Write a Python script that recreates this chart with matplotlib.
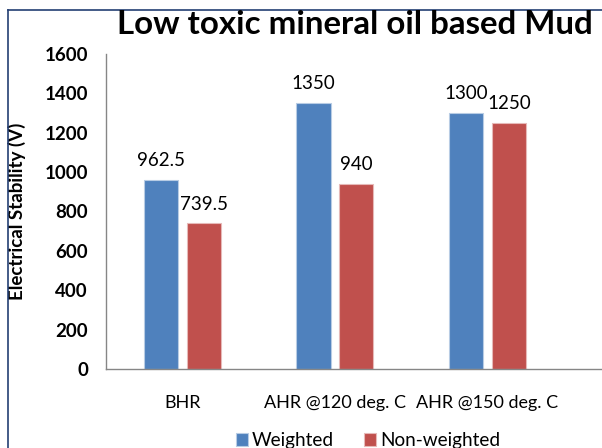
import matplotlib
matplotlib.use("Agg")
import matplotlib.pyplot as plt
from matplotlib.lines import Line2D
import numpy as np

categories = ["BHR", "AHR @120 deg. C", "AHR @150 deg. C"]
weighted = [962.5, 1350, 1300]
non_weighted = [739.5, 940, 1250]
series_names = ["Weighted", "Non-weighted"]
yticks = [0, 200, 400, 600, 800, 1000, 1200, 1400, 1600]

plt.rcParams['font.family'] = ['Lato', 'DejaVu Sans']

W, H = 602, 448
fig = plt.figure(figsize=(W / 100, H / 100), dpi=100)

# axes position in pixels
ax_left, ax_right, ax_bottom, ax_top = 106, 602, 369, 54
ax = fig.add_axes([ax_left / W, (H - ax_bottom) / H,
                   (ax_right - ax_left) / W, (ax_bottom - ax_top) / H])

x = np.arange(len(categories))
bw = 0.225
off = 0.14
blue = "#4F81BD"
red = "#C0504D"
b1 = ax.bar(x - off, weighted, bw, color=blue, edgecolor="#B8CCE4", linewidth=0.8, label=series_names[0])
b2 = ax.bar(x + off, non_weighted, bw, color=red, edgecolor="#E6B9B8", linewidth=0.8, label=series_names[1])

for bars, vals in ((b1, weighted), (b2, non_weighted)):
    for rect, v in zip(bars, vals):
        lab = f"{v:g}"
        ax.annotate(lab, (rect.get_x() + rect.get_width() / 2, v),
                    xytext=(0, 10), textcoords="offset points",
                    ha="center", va="baseline", fontsize=13.5, color="black")

ax.set_xlim(-0.5, 2.75)
ax.set_ylim(0, 1600)
ax.set_yticks(yticks)
ax.set_yticklabels([str(t) for t in yticks], fontsize=13.5, fontweight="bold")
ax.set_xticks(x)
ax.set_xticklabels(categories, fontsize=13)
ax.tick_params(axis="y", length=0, pad=13)
ax.tick_params(axis="x", length=0, pad=19)

for s in ("top", "right"):
    ax.spines[s].set_visible(False)
for s in ("left", "bottom"):
    ax.spines[s].set_color("#868686")
    ax.spines[s].set_linewidth(1.0)

ax.set_ylabel("Electrical Stability (V)", fontsize=13.5, fontweight="bold",
              va="center")
ax.yaxis.set_label_coords((17 - ax_left) / (ax_right - ax_left), 0.5)

fig.text(117 / W, 1 - 34 / H, "Low toxic mineral oil based Mud", fontsize=23.8,
         fontweight="bold", ha="left", va="baseline")

# outer chart frame (left and top visible)
frame_color = "#243F73"
fig.add_artist(Line2D([8 / W, 8 / W], [0, 1 - 10 / H], color=frame_color, lw=1.2, transform=fig.transFigure))
fig.add_artist(Line2D([8 / W, 1], [1 - 10 / H, 1 - 10 / H], color=frame_color, lw=1.2, transform=fig.transFigure))

fig.legend(handles=[b1, b2], labels=series_names, loc="upper left",
           bbox_to_anchor=(236 / W, 1 - 432 / H), ncol=2, frameon=False,
           fontsize=13.7, handlelength=0.65, handleheight=0.65, handletextpad=0.2,
           columnspacing=1.55, borderpad=0, borderaxespad=0)

fig.savefig("out.png", dpi=100)
